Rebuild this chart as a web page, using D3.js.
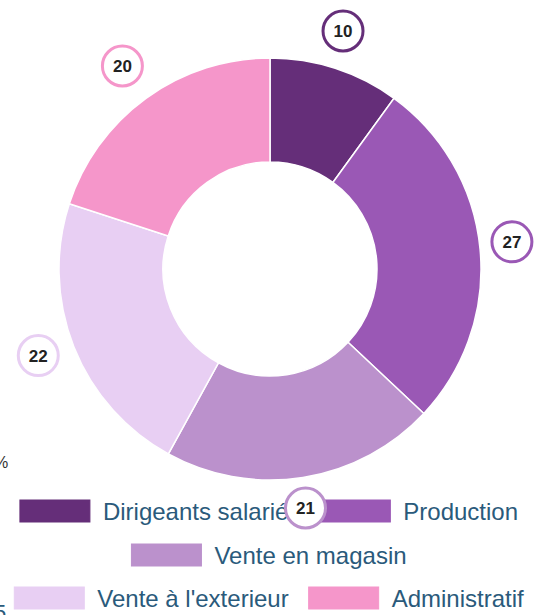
<!DOCTYPE html>
<html>
<head>
<meta charset="utf-8">
<script src="https://cdn.jsdelivr.net/npm/d3@7"></script>
<style>
  body { margin: 0; background: #fff; }
  svg { display: block; font-family: "Liberation Sans", Arial, sans-serif; }
</style>
</head>
<body>
<div id="chart"></div>
<script>
// data
var categories = ["Dirigeants salariés", "Production", "Vente en magasin", "Vente à l'exterieur", "Administratif"];
var values = [10, 27, 21, 22, 20];
var colors = ["#652e79", "#9a58b5", "#bb91cc", "#e8cff3", "#f596ca"];

var width = 550, height = 615;
var cx = 270, cy = 269;
var outerR = 211, innerR = 107, labelR = 246;

var svg = d3.select("#chart").append("svg")
    .attr("width", width)
    .attr("height", height);

// clipped bits of neighbouring text at the left edge
svg.append("text").attr("x", -6).attr("y", 468).attr("font-size", 16).attr("fill", "#333").text("%");
svg.append("text").attr("x", -6).attr("y", 620).attr("font-size", 22).attr("fill", "#2a5a7b").text("5");

var pie = d3.pie().sort(null).value(function (d) { return d; });
var arcs = pie(values);

var arc = d3.arc().innerRadius(innerR).outerRadius(outerR);
var labelArc = d3.arc().innerRadius(labelR).outerRadius(labelR);

var donut = svg.append("g").attr("transform", "translate(" + cx + "," + cy + ")");

donut.selectAll("path")
    .data(arcs)
    .enter()
    .append("path")
    .attr("d", arc)
    .attr("fill", function (d, i) { return colors[i]; })
    .attr("stroke", "#fff")
    .attr("stroke-width", 1.5);

// legend, rows wrapped and centred like the original
var fontSize = 24, boxW = 70, boxH = 22, boxGap = 13, itemGap = 20, maxRow = 530;
var legend = svg.append("g");

var measure = svg.append("text").attr("font-size", fontSize);
var items = categories.map(function (c, i) {
    measure.text(c);
    var tw = measure.node().getComputedTextLength();
    return { name: c, color: colors[i], w: boxW + boxGap + tw };
});
measure.remove();

var rows = [], row = [], rowW = 0;
items.forEach(function (it) {
    var add = row.length ? itemGap + it.w : it.w;
    if (row.length && rowW + add > maxRow) {
        rows.push({ items: row, w: rowW });
        row = []; rowW = 0; add = it.w;
    }
    row.push(it); rowW += add;
});
rows.push({ items: row, w: rowW });

var rowY = [500, 544, 587];
rows.forEach(function (r, ri) {
    var x = 269 - r.w / 2;
    r.items.forEach(function (it) {
        legend.append("rect")
            .attr("x", x).attr("y", rowY[ri])
            .attr("width", boxW).attr("height", boxH)
            .attr("fill", it.color)
            .attr("stroke", it.color);
        legend.append("text")
            .attr("x", x + boxW + boxGap)
            .attr("y", rowY[ri] + boxH / 2 + 9)
            .attr("font-size", fontSize)
            .attr("fill", "#2a5a7b")
            .text(it.name);
        x += it.w + itemGap;
    });
});

// value bubbles outside the ring
var labels = svg.append("g").attr("transform", "translate(" + (cx - 3) + "," + (cy - 4) + ")");

var lab = labels.selectAll("g")
    .data(arcs)
    .enter()
    .append("g")
    .attr("transform", function (d) { return "translate(" + labelArc.centroid(d) + ")"; });

lab.append("circle")
    .attr("r", 20)
    .attr("fill", "#fff")
    .attr("stroke", function (d, i) { return colors[i]; })
    .attr("stroke-width", 3);

lab.append("text")
    .attr("text-anchor", "middle")
    .attr("dy", "0.36em")
    .attr("font-size", 17)
    .attr("font-weight", "bold")
    .attr("fill", "#222")
    .text(function (d) { return d.data; });
</script>
</body>
</html>
